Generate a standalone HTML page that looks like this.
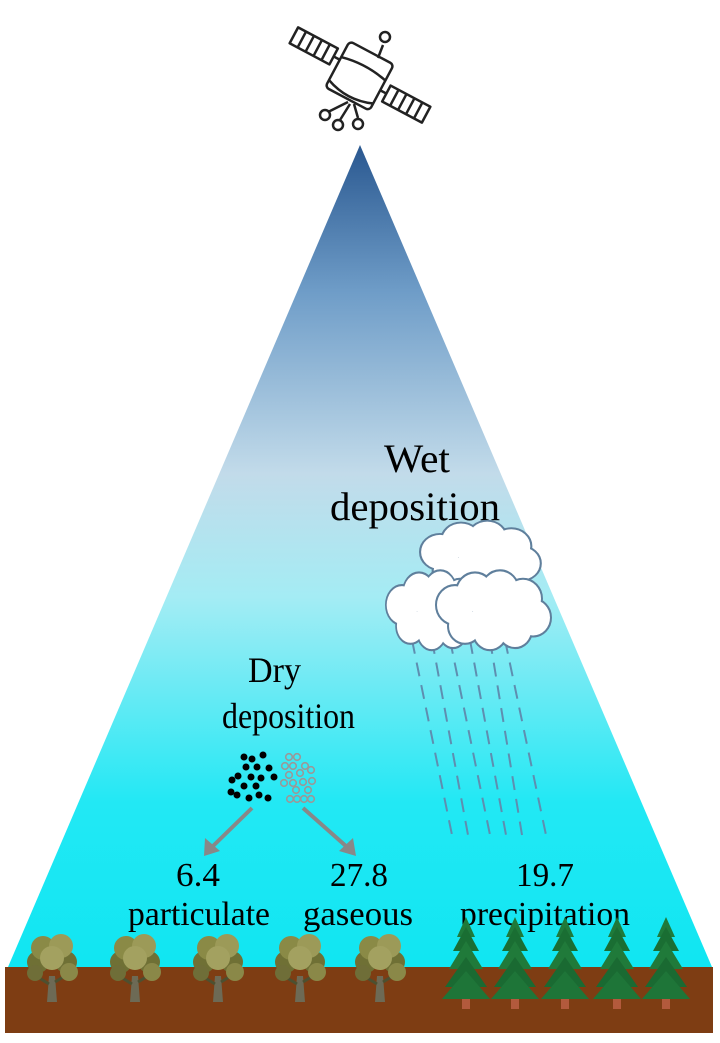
<!DOCTYPE html>
<html><head><meta charset="utf-8"><style>
html,body{margin:0;padding:0;background:#fff;}
svg{display:block}
text{font-family:"Liberation Serif",serif;fill:#000}
</style></head><body>
<svg width="720" height="1043" viewBox="0 0 720 1043" xmlns="http://www.w3.org/2000/svg">
<defs>
<linearGradient id="sky" x1="0" y1="145" x2="0" y2="967" gradientUnits="userSpaceOnUse">
<stop offset="0" stop-color="#2a5890"/>
<stop offset="0.18" stop-color="#6f9dc8"/>
<stop offset="0.4" stop-color="#c2dbea"/>
<stop offset="0.55" stop-color="#a4ecf4"/>
<stop offset="0.8" stop-color="#22e8f4"/>
<stop offset="1" stop-color="#10e6f2"/>
</linearGradient>
<g id="cl1"><circle cx="0" cy="0" r="18"/><circle cx="20" cy="-12" r="18"/><circle cx="45" cy="-14" r="18"/><circle cx="68" cy="-6" r="18"/><circle cx="78" cy="12" r="17"/><circle cx="60" cy="24" r="16"/><circle cx="35" cy="26" r="16"/><circle cx="10" cy="20" r="16"/><circle cx="40" cy="6" r="22"/></g>
<g id="bt">
<path d="M-5 34 L-3 8 L3 8 L5 34 Z" fill="#6d6a55"/>
<path d="M-3 16 L-16 8 M3 14 L16 6" stroke="#4d5030" stroke-width="3"/>
<circle cx="-14" cy="-6" r="11" fill="#6f7035"/><circle cx="14" cy="-6" r="11" fill="#6f7035"/>
<circle cx="-9" cy="-20" r="12" fill="#8a8a46"/><circle cx="9" cy="-22" r="12" fill="#9c9a58"/>
<circle cx="0" cy="-10" r="12" fill="#a3a160"/><circle cx="17" cy="4" r="9" fill="#8a8848"/><circle cx="-17" cy="5" r="8" fill="#6f6e38"/>
</g>
<g id="pt">
<rect x="-4" y="40" width="8" height="14" fill="#b35a3c"/>
<path d="M0 -38 L-9 -18 L9 -18 Z" fill="#1f7a3a"/>
<path d="M0 -28 L-13 -4 L13 -4 Z" fill="#1a6e33"/>
<path d="M0 -14 L-17 14 L17 14 Z" fill="#207a3a"/>
<path d="M0 2 L-21 32 L21 32 Z" fill="#1a6a32"/>
<path d="M0 16 L-24 44 L24 44 Z" fill="#1e7538"/>
</g>
</defs>
<path d="M360 145 L8 967 L712 967 Z" fill="url(#sky)"/>
<rect x="5" y="967" width="708" height="66" fill="#7e3d13"/>
<!-- satellite -->
<g fill="none" stroke="#222" stroke-width="2.5" stroke-linejoin="round">
<g transform="rotate(28 360 75)">
<rect x="335" y="50" width="50" height="52" rx="4" fill="#fff"/>
<path d="M335 68 Q360 62 385 68"/>
<path d="M335 94 Q360 104 385 94"/>
<rect x="283" y="62" width="45" height="18"/><path d="M292 62v18M301 62v18M310 62v18M319 62v18M328 71h7"/>
<rect x="392" y="70" width="45" height="18"/><path d="M401 70v18M410 70v18M419 70v18M428 70v18M385 79h7"/>
</g>
<path d="M383 45 L378 58"/><circle cx="385" cy="37" r="5" fill="#fff"/>
<path d="M348 102 L328 112 M350 104 L340 120 M354 104 L358 118"/>
<circle cx="325" cy="115" r="5" fill="#fff"/><circle cx="338" cy="125" r="5" fill="#fff"/><circle cx="358" cy="124" r="5" fill="#fff"/>
</g>
<text x="384" y="472" font-size="40" textLength="66" lengthAdjust="spacingAndGlyphs">Wet</text>
<text x="330" y="520" font-size="40" textLength="170" lengthAdjust="spacingAndGlyphs">deposition</text>
<text x="248" y="682" font-size="36" textLength="53" lengthAdjust="spacingAndGlyphs">Dry</text>
<text x="222" y="728" font-size="36" textLength="133" lengthAdjust="spacingAndGlyphs">deposition</text>
<!-- rain -->
<g stroke="#5e8eb0" stroke-width="2" stroke-dasharray="14,9">
<path d="M412 640 L452 835"/><path d="M432 640 L468 835"/><path d="M450 640 L490 835"/><path d="M470 640 L506 835"/><path d="M490 640 L522 835"/><path d="M505 640 L546 835"/>
</g>
<!-- clouds -->
<g transform="translate(440,552) scale(1.05,0.95)"><use href="#cl1" fill="#5f7f9c" stroke="#5f7f9c" stroke-width="4"/><use href="#cl1" fill="#fff"/></g>
<g transform="translate(402,605) scale(0.85,1.05)"><use href="#cl1" fill="#5f7f9c" stroke="#5f7f9c" stroke-width="4"/><use href="#cl1" fill="#fff"/></g>
<g transform="translate(455,605) scale(1.0,1.05)"><use href="#cl1" fill="#5f7f9c" stroke="#5f7f9c" stroke-width="4"/><use href="#cl1" fill="#fff"/></g>
<!-- particles -->
<g fill="#000">
<circle cx="244" cy="757" r="3.5"/><circle cx="252" cy="759" r="3.5"/><circle cx="263" cy="755" r="3.5"/><circle cx="246" cy="767" r="3.5"/><circle cx="257" cy="767" r="3.5"/><circle cx="269" cy="768" r="3.5"/><circle cx="238" cy="776" r="3.5"/><circle cx="251" cy="777" r="3.5"/><circle cx="261" cy="778" r="3.5"/><circle cx="274" cy="777" r="3.5"/><circle cx="244" cy="786" r="3.5"/><circle cx="256" cy="786" r="3.5"/><circle cx="231" cy="792" r="3.5"/><circle cx="237" cy="795" r="3.5"/><circle cx="249" cy="798" r="3.5"/><circle cx="259" cy="795" r="3.5"/><circle cx="268" cy="798" r="3.5"/><circle cx="232" cy="780" r="3.5"/>
</g>
<g fill="none" stroke="#999" stroke-width="1.6">
<circle cx="289" cy="757" r="3.3"/><circle cx="297" cy="757" r="3.3"/><circle cx="285" cy="766" r="3.3"/><circle cx="293" cy="766" r="3.3"/><circle cx="305" cy="766" r="3.3"/><circle cx="289" cy="775" r="3.3"/><circle cx="300" cy="773" r="3.3"/><circle cx="311" cy="770" r="3.3"/><circle cx="284" cy="783" r="3.3"/><circle cx="293" cy="783" r="3.3"/><circle cx="303" cy="782" r="3.3"/><circle cx="312" cy="781" r="3.3"/><circle cx="290" cy="799" r="3.3"/><circle cx="297" cy="799" r="3.3"/><circle cx="304" cy="799" r="3.3"/><circle cx="311" cy="799" r="3.3"/><circle cx="296" cy="790" r="3.3"/><circle cx="308" cy="790" r="3.3"/>
</g>
<!-- arrows -->
<g stroke="#888" stroke-width="4"><path d="M252 808 L212 847"/><path d="M303 808 L347 847"/></g>
<path d="M204 856 L205 838 L220 851 Z" fill="#888"/>
<path d="M356 856 L339 851 L353 838 Z" fill="#888"/>
<text x="176" y="886" font-size="34" textLength="44" lengthAdjust="spacingAndGlyphs">6.4</text>
<text x="330" y="886" font-size="34" textLength="58" lengthAdjust="spacingAndGlyphs">27.8</text>
<text x="516" y="886" font-size="34" textLength="58" lengthAdjust="spacingAndGlyphs">19.7</text>
<text x="128" y="925" font-size="34" textLength="142" lengthAdjust="spacingAndGlyphs">particulate</text>
<text x="303" y="925" font-size="34" textLength="110" lengthAdjust="spacingAndGlyphs">gaseous</text>
<text x="460" y="925" font-size="34" textLength="170" lengthAdjust="spacingAndGlyphs">precipitation</text>
<use href="#bt" x="52" y="968"/><use href="#bt" x="135" y="968"/><use href="#bt" x="218" y="968"/><use href="#bt" x="300" y="968"/><use href="#bt" x="380" y="968"/>
<use href="#pt" x="466" y="955"/><use href="#pt" x="515" y="955"/><use href="#pt" x="565" y="955"/><use href="#pt" x="617" y="955"/><use href="#pt" x="666" y="955"/>
</svg>
</body></html>
